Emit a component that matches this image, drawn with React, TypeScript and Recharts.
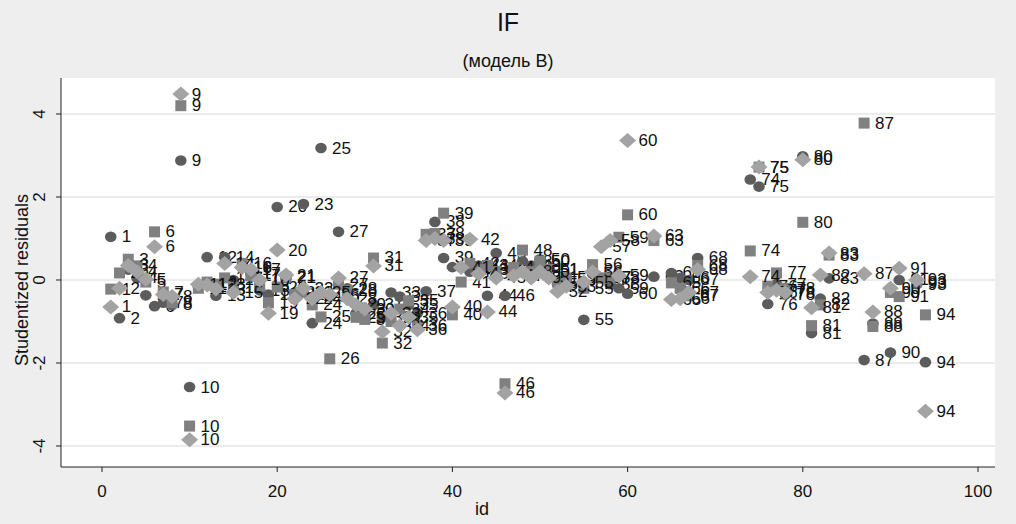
import { CartesianGrid, Scatter, ScatterChart, XAxis, YAxis } from "recharts";

const ids = [
    1, 2, 3, 4, 5, 6, 7, 8, 9, 10,
    11, 12, 13, 14, 15, 16, 17, 18, 19, 20,
    21, 22, 23, 24, 25, 26, 27, 28, 29, 30,
    31, 32, 33, 34, 35, 36, 37, 38, 39, 40,
    41, 42, 43, 44, 45, 46, 47, 48, 49, 50,
    51, 52, 53, 55, 56, 57, 58, 59, 60, 63,
    65, 66, 67, 68, 74, 75, 76, 77, 78, 80,
    81, 82, 83, 87, 88, 90, 91, 93, 94,
];

// model A (circles)
const circleRes = [
    1.04, -0.92, 0.25, 0.05, -0.37, -0.63, -0.55, -0.6, 2.88, -2.58,
    -0.15, 0.55, -0.38, 0.55, 0.0, 0.3, 0.15, -0.25, -0.35, 1.76,
    0.05, -0.3, 1.83, -1.04, 3.18, -0.4, 1.16, -0.2, -0.8, -0.9,
    -0.6, -0.9, -0.3, -0.4, -0.6, -0.8, -0.27, 1.4, 0.53, 0.31,
    0.3, 0.2, 0.35, -0.38, 0.65, -0.38, 0.3, 0.45, 0.35, 0.5,
    0.25, -0.1, 0.0, -0.96, 0.15, 0.05, -0.1, -0.2, -0.33, 0.08,
    0.17, 0.05, 0.0, 0.53, 2.42, 2.25, -0.58, -0.1, -0.35, 2.98,
    -1.28, -0.45, 0.04, -1.93, -1.05, -1.75, 0.0, -0.1, -1.98,
];

// model B (squares)
const squareRes = [
    -0.22, 0.17, 0.5, 0.34, -0.05, 1.16, -0.29, -0.55, 4.2, -3.52,
    -0.2, -0.05, -0.1, 0.05, -0.18, 0.4, 0.1, -0.15, -0.55, -0.17,
    0.07, -0.35, -0.3, -0.6, -0.89, -1.9, -0.1, -0.25, -0.9, -0.95,
    0.53, -1.52, -1.0, -0.7, -0.5, -1.1, 1.1, 1.12, 1.61, -0.84,
    -0.05, 0.4, 0.25, 0.35, 0.2, -2.5, 0.3, 0.72, 0.2, 0.45,
    0.25, -0.05, 0.05, -0.2, 0.37, 0.05, 0.05, 1.03, 1.57, 0.95,
    -0.07, -0.2, -0.38, 0.35, 0.7, 2.72, -0.15, 0.17, -0.2, 1.39,
    -1.1, -0.6, 0.6, 3.78, -1.12, -0.3, -0.4, -0.05, -0.84,
];

// model C (diamonds)
const diamondRes = [
    -0.65, -0.2, 0.35, 0.2, 0.02, 0.8, -0.35, -0.4, 4.48, -3.85,
    -0.1, -0.12, -0.22, 0.4, -0.3, 0.3, 0.25, 0.0, -0.8, 0.72,
    0.12, -0.45, -0.2, -0.45, -0.3, -0.35, 0.05, -0.45, -0.6, -0.7,
    0.34, -1.25, -0.8, -1.1, -0.9, -1.2, 0.95, 1.0, 0.95, -0.65,
    0.3, 0.98, 0.15, -0.77, 0.05, -2.72, 0.1, 0.2, 0.05, 0.2,
    0.05, -0.28, -0.15, -0.05, 0.2, 0.8, 0.95, 0.1, 3.36, 1.06,
    -0.47, -0.45, -0.3, 0.25, 0.08, 2.72, -0.3, -0.25, -0.3, 2.9,
    -0.67, 0.12, 0.65, 0.15, -0.77, -0.2, 0.28, 0.0, -3.16,
];

const xTicks = [0, 20, 40, 60, 80, 100];
const yTicks = [-4, -2, 0, 2, 4];

const font = "'Liberation Sans', Arial, sans-serif";

const toPoints = (vals: number[]) => ids.map((id, i) => ({ id, r: vals[i] }));

type Kind = "circle" | "square" | "diamond";

function makeShape(kind: Kind, color: string) {
    return (props: any) => {
        const { cx, cy, payload } = props;
        let mark;
        if (kind === "circle") {
            mark = <ellipse cx={cx} cy={cy} rx={5.8} ry={5.3} fill={color} />;
        } else if (kind === "square") {
            mark = <rect x={cx - 5.5} y={cy - 5.5} width={11} height={11} fill={color} />;
        } else {
            mark = (
                <polygon
                    points={`${cx - 8.5},${cy} ${cx},${cy - 7.5} ${cx + 8.5},${cy} ${cx},${cy + 7.5}`}
                    fill={color} />
            );
        }
        return (
            <g>
                {mark}
                <text
                    x={cx + 11} y={cy}
                    dominantBaseline="central"
                    fontSize={17}
                    fontFamily={font}
                    fill="#111">
                    {payload.id}
                </text>
            </g>
        );
    };
}

const YTick = ({ y, payload }: any) => (
    <text
        x={40} y={y}
        transform={`rotate(-90 40 ${y})`}
        textAnchor="middle"
        dominantBaseline="central"
        fontSize={17}
        fontFamily={font}
        fill="#111">
        {payload.value}
    </text>
);

const XTick = ({ x, payload }: any) => (
    <text
        x={x} y={491}
        textAnchor="middle"
        dominantBaseline="central"
        fontSize={17}
        fontFamily={font}
        fill="#111">
        {payload.value}
    </text>
);

export default function App() {
    return (
        <div
            style={{
                position: "fixed", left: 0, top: 0,
                width: 1016, height: 524,
                background: "#eeeeee",
                fontFamily: font,
                color: "#111",
            }}>
            <div style={{ position: "absolute", left: 0, width: 1016, top: 8, textAlign: "center", fontSize: 25, lineHeight: "28px" }}>
                IF
            </div>
            <div style={{ position: "absolute", left: 0, width: 1016, top: 50, textAlign: "center", fontSize: 18, lineHeight: "22px" }}>
                (модель B)
            </div>
            <div
                style={{
                    position: "absolute", left: 22, top: 280, width: 300,
                    marginLeft: -150, marginTop: -11,
                    textAlign: "center", fontSize: 18, lineHeight: "22px",
                    transform: "rotate(-90deg)",
                }}>
                Studentized residuals
            </div>
            <div style={{ position: "absolute", left: 432, width: 100, top: 498, textAlign: "center", fontSize: 18, lineHeight: "22px" }}>
                id
            </div>
            <ScatterChart
                width={1016} height={524}
                margin={{ top: 78, right: 21, bottom: 0, left: 0 }}
                style={{ position: "absolute", left: 0, top: 0 }}>
                <CartesianGrid
                    vertical={false}
                    horizontalValues={yTicks}
                    fill="#ffffff"
                    fillOpacity={1}
                    stroke="#e6e6e6"
                    strokeWidth={1.5} />
                <XAxis
                    type="number" dataKey="id"
                    domain={[-4.68, 101.94]}
                    ticks={xTicks}
                    allowDataOverflow
                    height={57}
                    tickSize={5}
                    axisLine={{ stroke: "#222" }}
                    tickLine={{ stroke: "#222" }}
                    tick={<XTick />} />
                <YAxis
                    type="number" dataKey="r"
                    domain={[-4.506, 4.867]}
                    ticks={yTicks}
                    allowDataOverflow
                    width={61}
                    tickSize={5}
                    axisLine={{ stroke: "#222" }}
                    tickLine={{ stroke: "#222" }}
                    tick={<YTick />} />
                <Scatter data={toPoints(circleRes)} shape={makeShape("circle", "#5c5c5c")} isAnimationActive={false} />
                <Scatter data={toPoints(squareRes)} shape={makeShape("square", "#808080")} isAnimationActive={false} />
                <Scatter data={toPoints(diamondRes)} shape={makeShape("diamond", "#a3a3a3")} isAnimationActive={false} />
            </ScatterChart>
        </div>
    );
}
